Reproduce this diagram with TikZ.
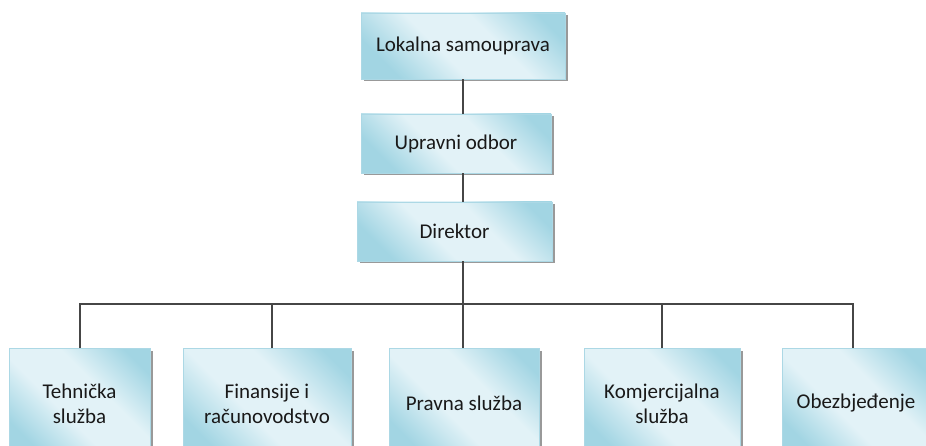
\documentclass[tikz,border=0pt]{standalone}
\usepackage{fontspec}
\setmainfont{Carlito}
\usetikzlibrary{shadows}
\definecolor{boxlight}{RGB}{226,242,247}
\definecolor{boxdark}{RGB}{162,213,227}
\definecolor{boxedge}{RGB}{172,216,229}
\definecolor{linkgray}{RGB}{70,70,70}
\pgfdeclarehorizontalshading{boxshade}{100bp}{color(0bp)=(boxdark); color(25bp)=(boxdark); color(43bp)=(boxlight); color(60bp)=(boxlight); color(78bp)=(boxdark); color(100bp)=(boxdark)}
\tikzset{
  unit/.style={draw=boxedge,line width=0.8pt,shading=boxshade,shading angle=45,
    drop shadow={shadow xshift=2.5pt,shadow yshift=-2.5pt,fill=black!50,opacity=0.8},
    align=center,inner sep=2pt},
  dept/.style={unit,anchor=north,minimum height=110},
  link/.style={draw=linkgray,line width=1.3pt}
}
\tikzstyle{every node}=[text=black!90,font=\fontsize{21}{25}\selectfont]

\begin{document}
\begin{tikzpicture}[x=1pt,y=1pt]
    \useasboundingbox (0,0) rectangle (926,-446);
    \clip (0,0) rectangle (926,-446);
    \node [unit,minimum width=204,minimum height=66] (lok) at (463,-46) {Lokalna samouprava};
    \node [unit,minimum width=190,minimum height=59] (upr) at (456,-143.5) {Upravni odbor};
    \node [unit,minimum width=195,minimum height=59] (dir) at (454.5,-231.5) {Direktor};
    \node [dept,minimum width=141] (teh) at (79.5,-348) {Tehnička\\služba};
    \node [dept,minimum width=168] (fin) at (267,-348) {Finansije i\\računovodstvo};
    \node [dept,minimum width=150] (prav) at (464,-348) {Pravna služba};
    \node [dept,minimum width=156] (kom) at (662,-348) {Komjercijalna\\služba};
    \node [dept,minimum width=147] (obe) at (856,-348) {Obezbjeđenje};
    \coordinate (bus) at (463,-304);
    \draw [link] (lok.south) -- (lok.south |- upr.north);
    \draw [link] (upr.south -| lok.south) -- (dir.north -| lok.south);
    \draw [link] (dir.south -| lok.south) -- (prav.north -| lok.south);
    \draw [link] ([xshift=0.5pt]teh.north) |- (bus) -| ([xshift=-3pt]obe.north);
    \draw [link] ([xshift=5pt]fin.north) -- ([xshift=5pt]fin.north |- bus);
    \draw [link] (kom.north) -- (kom.north |- bus);
\end{tikzpicture}
\end{document}
